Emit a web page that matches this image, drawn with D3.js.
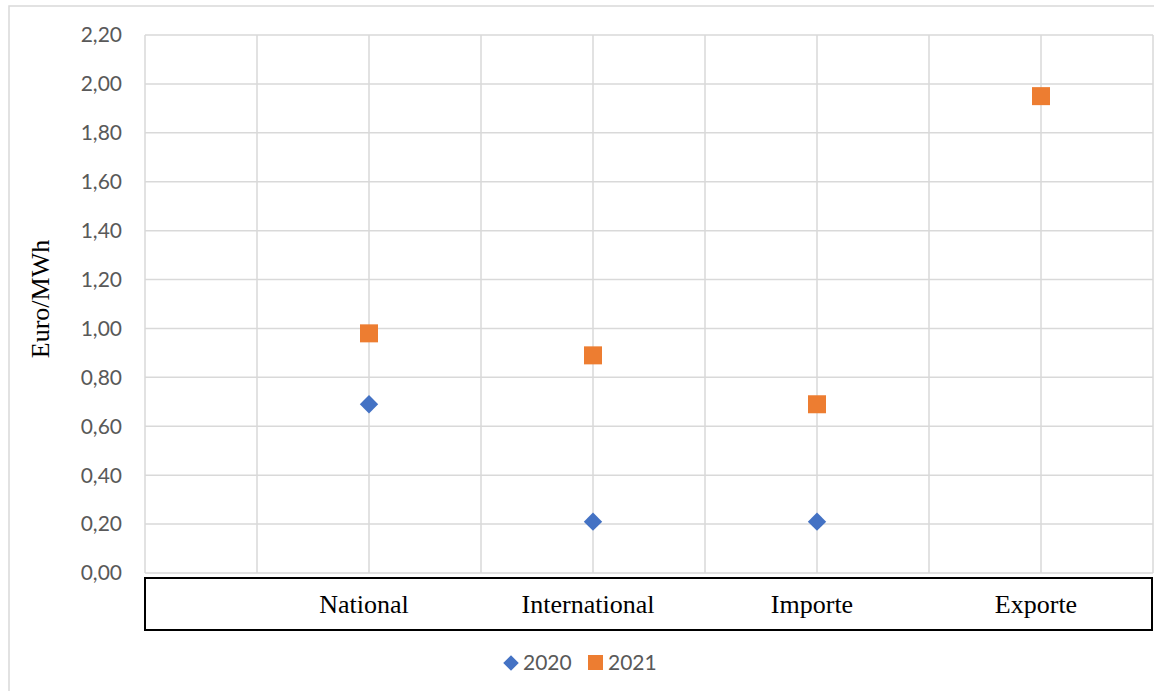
<!DOCTYPE html>
<html>
<head>
<meta charset="utf-8">
<script src="https://cdn.jsdelivr.net/npm/d3@7"></script>
<style>
  html, body { margin: 0; padding: 0; background: #fff; }
  svg { display: block; }
</style>
</head>
<body>
<svg id="chart" width="1154" height="691"></svg>
<script>
// Data
const categories = ["National", "International", "Importe", "Exporte"];
const categoryPos = [1, 2, 3, 4];
const series2020 = [0.69, 0.21, 0.21, null];
const series2021 = [0.98, 0.89, 0.69, 1.95];
const seriesNames = ["2020", "2021"];
const seriesColors = ["#4472C4", "#ED7D31"];
const yTicks = [0, 0.2, 0.4, 0.6, 0.8, 1.0, 1.2, 1.4, 1.6, 1.8, 2.0, 2.2];
const xGrid = [0, 0.5, 1, 1.5, 2, 2.5, 3, 3.5, 4, 4.5];
const yLabel = "Euro/MWh";

const svg = d3.select("#chart");
const W = 1154, H = 691;
const plot = { left: 145, right: 1153, top: 35, bottom: 573 };

const x = d3.scaleLinear().domain([0, 4.5]).range([plot.left, plot.right]);
const y = d3.scaleLinear().domain([0, 2.2]).range([plot.bottom, plot.top]);

// outer chart border (partially visible)
svg.append("path")
  .attr("d", `M9,${H} L9,6 L${W},6`)
  .attr("fill", "none").attr("stroke", "#d9d9d9").attr("stroke-width", 1.5);

// horizontal gridlines
svg.append("g").selectAll("line").data(yTicks).join("line")
  .attr("x1", plot.left).attr("x2", plot.right)
  .attr("y1", d => y(d)).attr("y2", d => y(d))
  .attr("stroke", "#d9d9d9").attr("stroke-width", 1.5);

// vertical gridlines
svg.append("g").selectAll("line").data(xGrid).join("line")
  .attr("x1", d => x(d)).attr("x2", d => x(d))
  .attr("y1", plot.top).attr("y2", plot.bottom)
  .attr("stroke", "#d9d9d9").attr("stroke-width", 1.5);

// y axis labels
const fmt = d => d3.format(".2f")(d).replace(".", ",");
svg.append("g").selectAll("text").data(yTicks).join("text")
  .attr("x", 122).attr("y", d => y(d))
  .attr("dy", "0.35em")
  .attr("text-anchor", "end")
  .attr("font-family", "Lato, 'Open Sans', sans-serif")
  .attr("font-size", 21)
  .attr("fill", "#595959")
  .text(fmt);

// y axis title
svg.append("text")
  .attr("transform", `translate(49,${(plot.top + plot.bottom) / 2 - 5}) rotate(-90)`)
  .attr("text-anchor", "middle")
  .attr("font-family", "'Liberation Serif', 'Times New Roman', serif")
  .attr("font-size", 26)
  .attr("fill", "#000")
  .text(yLabel);

// category box
svg.append("rect")
  .attr("x", 145).attr("y", 578)
  .attr("width", 1007).attr("height", 52)
  .attr("fill", "none").attr("stroke", "#000").attr("stroke-width", 2);

svg.append("g").selectAll("text").data(categories).join("text")
  .attr("x", (d, i) => x(categoryPos[i]) - 5)
  .attr("y", 613)
  .attr("text-anchor", "middle")
  .attr("font-family", "'Liberation Serif', 'Times New Roman', serif")
  .attr("font-size", 26)
  .attr("fill", "#000")
  .text(d => d);

// markers
const diamond = d3.symbol().type(d3.symbolSquare).size(13 * 13);
const pts2020 = categoryPos.map((p, i) => ({ p, v: series2020[i] })).filter(d => d.v != null);
const pts2021 = categoryPos.map((p, i) => ({ p, v: series2021[i] })).filter(d => d.v != null);

svg.append("g").selectAll("path").data(pts2020).join("path")
  .attr("d", diamond)
  .attr("transform", d => `translate(${x(d.p)},${y(d.v)}) rotate(45)`)
  .attr("fill", seriesColors[0]);

svg.append("g").selectAll("rect").data(pts2021).join("rect")
  .attr("x", d => x(d.p) - 9).attr("y", d => y(d.v) - 9)
  .attr("width", 18).attr("height", 18)
  .attr("fill", seriesColors[1]);

// legend
const lg = svg.append("g");
lg.append("path")
  .attr("d", d3.symbol().type(d3.symbolSquare).size(11 * 11))
  .attr("transform", "translate(511,663) rotate(45)")
  .attr("fill", seriesColors[0]);
lg.append("text").attr("x", 523).attr("y", 670)
  .attr("font-family", "Lato, 'Open Sans', sans-serif").attr("font-size", 21)
  .attr("fill", "#595959").text(seriesNames[0]);
lg.append("rect").attr("x", 588).attr("y", 655).attr("width", 15).attr("height", 15)
  .attr("fill", seriesColors[1]);
lg.append("text").attr("x", 608).attr("y", 670)
  .attr("font-family", "Lato, 'Open Sans', sans-serif").attr("font-size", 21)
  .attr("fill", "#595959").text(seriesNames[1]);
</script>
</body>
</html>
